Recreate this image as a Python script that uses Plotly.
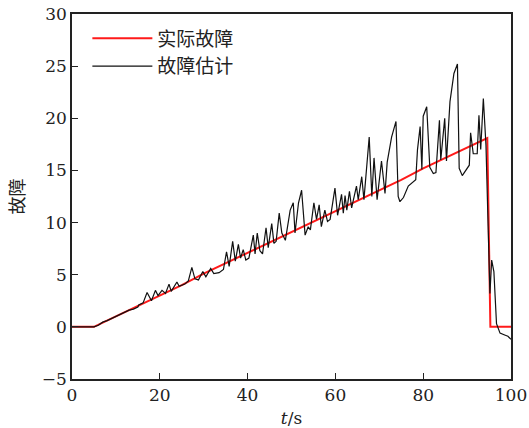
import plotly.graph_objects as go

# Actual fault (red)
t_actual = [0, 5, 10, 15, 20, 25, 30, 35, 40, 45, 50, 55, 60, 65, 70, 75, 80, 85, 90, 94.6, 95.3, 100]
v_actual = [0, 0, 1.0, 2.0, 3.0, 4.0, 5.1, 6.1, 7.1, 8.1, 9.1, 10.1, 11.1, 12.1, 13.1, 14.1, 15.2, 16.2, 17.2, 18.1, 0, 0]

# Estimated fault (black)
t_est = [0, 5, 6, 7, 8, 9, 10, 11, 12, 13, 14, 15, 15.2, 16.2, 17.1, 18.1, 19.0, 19.6, 20.5, 21.3,
         22.1, 22.6, 23.9, 24.4, 25.7, 26.5, 27.3, 28.0, 28.8, 29.8, 30.5, 31.6, 32.3, 33.5, 34.5,
         35.2, 35.8, 36.6, 37.2, 37.9, 38.4, 39.0, 39.6, 40.3, 41.3, 41.7, 42.2, 42.8, 43.4, 44.2,
         44.7, 45.5, 46.0, 46.5, 47.2, 47.8, 48.6, 49.7, 50.4, 50.8, 51.6, 52.3, 53.1, 53.8, 54.3,
         55.1, 55.7, 56.3, 56.8, 57.6, 58.2, 58.8, 59.9, 60.5, 61.4, 61.8, 62.2, 62.6, 63.2, 63.7,
         64.8, 65.2, 66.0, 66.5, 67.7, 68.3, 68.8, 69.5, 70.5, 71.3, 71.8, 72.8, 73.8, 74.3, 74.7,
         75.5, 76.6, 77.7, 78.3, 78.7, 79.3, 79.7, 80.0, 80.8, 81.5, 82.3, 82.9, 83.7, 84.0, 84.9,
         85.3, 86.1, 87.0, 87.8, 88.2, 88.9, 90.5, 90.8, 91.4, 92.3, 92.7, 93.1, 93.7, 94.3, 94.8,
         95.2, 95.6, 96.1, 96.7, 97.5, 98.7, 99.3, 100]
v_est = [0, 0, 0.15, 0.45, 0.6, 0.8, 1.0, 1.15, 1.35, 1.6, 1.7, 1.9, 2.1, 2.3, 3.3, 2.5, 3.5, 3.0, 3.5, 3.2,
         4.1, 3.4, 4.3, 3.9, 4.1, 4.4, 5.7, 4.6, 4.5, 5.3, 4.8, 5.6, 5.1, 5.2, 5.5,
         7.2, 5.8, 8.2, 6.3, 7.9, 6.6, 7.4, 6.4, 6.6, 8.8, 7.0, 9.0, 7.3, 7.0, 9.5,
         7.6, 9.9, 8.0, 8.2, 10.9, 9.0, 8.3, 11.2, 11.9, 9.0, 11.9, 13.1, 8.8, 9.6, 9.3,
         11.9, 10.3, 11.7, 9.6, 11.2, 10.1, 10.3, 13.3, 10.7, 12.7, 10.9, 12.6, 11.2, 13.0, 11.4,
         13.5, 12.2, 14.4, 12.2, 18.2, 12.5, 16.2, 12.2, 15.9, 12.8, 15.8, 18.2, 19.7, 12.5, 12.0,
         12.4, 13.5, 13.9, 14.1, 17.0, 19.2, 15.1, 20.2, 21.1, 15.3, 14.7, 14.8, 19.8, 16.0, 20.0,
         15.9, 21.6, 24.3, 25.2, 15.2, 14.5, 15.5, 18.6, 16.6, 16.6, 20.3, 17.0, 21.9, 17.4, 10.6,
         3.2, 6.4, 5.3, 0.3, -0.6, -0.8, -0.9, -1.2]

x_ticks = [0, 20, 40, 60, 80, 100]
y_ticks = [-5, 0, 5, 10, 15, 20, 25, 30]

fig = go.Figure()
fig.add_trace(go.Scatter(x=t_actual, y=v_actual, mode="lines", name="实际故障",
                         line=dict(color="#ff1a1a", width=2)))
fig.add_trace(go.Scatter(x=t_est, y=v_est, mode="lines", name="故障估计",
                         line=dict(color="#111111", width=1.2)))

tick_font = dict(family="DejaVu Serif", size=17, color="#222222")
fig.update_layout(
    width=529, height=428,
    margin=dict(l=72, r=18, t=14, b=49),
    paper_bgcolor="white", plot_bgcolor="white",
    showlegend=True,
    legend=dict(x=0.035, y=0.985, xanchor="left", yanchor="top",
                bgcolor="rgba(0,0,0,0)", itemwidth=60,
                font=dict(family="Noto Sans CJK SC", size=19, color="#222222"),
                tracegroupgap=0),
    xaxis=dict(range=[0, 100], tickvals=x_ticks, ticks="inside", ticklen=6, tickwidth=1.2,
               tickcolor="#222222", showline=True, linecolor="#222222", linewidth=1.6,
               mirror=True, showgrid=False, zeroline=False, tickfont=tick_font,
               automargin=False,
               title=dict(text="<i>t</i>/s", font=tick_font, standoff=8)),
    yaxis=dict(range=[-5, 30], tickvals=y_ticks, ticks="inside", ticklen=6, tickwidth=1.2,
               tickcolor="#222222", showline=True, linecolor="#222222", linewidth=1.6,
               mirror=True, showgrid=False, zeroline=False, tickfont=tick_font,
               automargin=False,
               title=dict(text="故障", font=dict(family="Noto Sans CJK SC", size=18, color="#222222"),
                          standoff=12)),
)

fig.write_html("out.html")
